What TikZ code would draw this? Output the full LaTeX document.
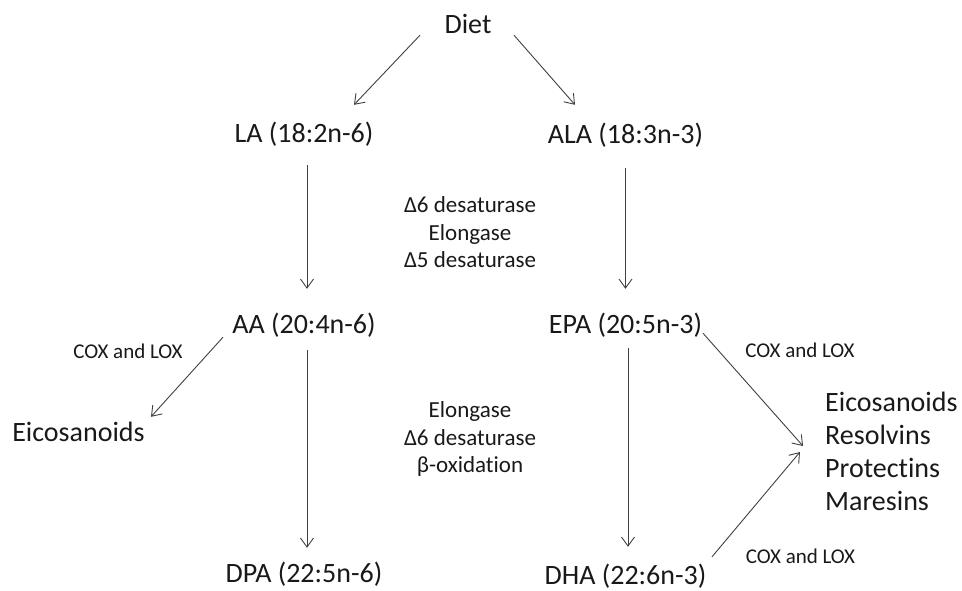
\documentclass[tikz,border=0pt]{standalone}
\usepackage{fontspec}
\setmainfont{Carlito}[Ligatures=NoCommon]
\usetikzlibrary{arrows.meta, positioning}

\begin{document}
\begin{tikzpicture}[
            node distance = 1cm and 1cm, on grid,
            every node/.style = {inner sep=0pt, text=black!90},
            acid/.style = {font=\fontsize{28}{33}\selectfont, text height=20pt, text depth=6pt},
            products/.style = {font=\fontsize{28}{33}\selectfont, align=left},
            enzyme/.style = {font=\fontsize{23}{27.5}\selectfont, align=center},
            coxlox/.style = {font=\fontsize{21}{25}\selectfont, text height=15pt, text depth=4pt},
            conv/.style = {-{Straight Barb[length=9pt,width=13pt]}, line width=0.9pt, black!75}
                                 ]
            \useasboundingbox (-468pt,26pt) rectangle (494pt,-564pt);
            \node[acid] (DIET) at (0,0) {Diet};
            \node[acid] (LA)   [below left  = 109pt and 164pt of DIET] {LA (18:2n-6)};
            \node[acid] (ALA)  [below right = 110pt and 157.5pt of DIET] {ALA (18:3n-3)};
            \node[acid] (AA)   [below = 191pt of LA] {AA (20:4n-6)};
            \node[acid] (EPA)  [below = 190pt of ALA] {EPA (20:5n-3)};
            \node[acid] (DPA)  [below = 249pt of AA] {DPA (22:5n-6)};
            \node[acid] (DHA)  [below = 251pt of EPA] {DHA (22:6n-3)};
            \node[acid] (EICO) [below left  = 108pt and 225.5pt of AA] {Eicosanoids};
            \node[products] (MED) [below right = 125pt and 199.5pt of EPA, anchor=west]
                {Eicosanoids\\Resolvins\\Protectins\\Maresins};
            %
            \node[enzyme] (ENZ1) [below right = 97.5pt and 166pt of LA]
                {Δ6 desaturase\\Elongase\\Δ5 desaturase};
            \node[enzyme] (ENZ2) [below right = 113pt and 166pt of AA]
                {Elongase\\Δ6 desaturase\\β-oxidation};
            \node[coxlox] (COX1) [below left  = 26.5pt and 176pt of AA] {COX and LOX};
            \node[coxlox] (COX2) [below right = 25.5pt and 174.5pt of EPA] {COX and LOX};
            \node[coxlox] (COX3) [above right = 19.5pt and 175pt of DHA] {COX and LOX};
            %
            \draw [conv] ([xshift=-48pt,yshift=4pt]DIET.south) -- ([xshift=50pt,yshift=17pt]LA.north);
            \draw [conv] ([xshift=46pt,yshift=4pt]DIET.south) -- ([xshift=-50.5pt,yshift=18pt]ALA.north);
            \draw [conv] ([xshift=3pt,yshift=-17pt]LA.south) -- ([xshift=3pt,yshift=24pt]AA.north);
            \draw [conv] ([yshift=-19pt]ALA.south) -- ([yshift=24pt]EPA.north);
            \draw [conv] ([xshift=3pt,yshift=-11pt]AA.south) -- ([xshift=3pt,yshift=14pt]DPA.north);
            \draw [conv] ([xshift=2.5pt,yshift=-9pt]EPA.south) -- ([xshift=2.5pt,yshift=17pt]DHA.north);
            \draw [conv] ([xshift=-81pt,yshift=2pt]AA.south) -- ([xshift=72.5pt,yshift=4pt]EICO.north);
            \draw [conv] ([xshift=77.5pt,yshift=6pt]EPA.south) -- ([xshift=-22pt,yshift=5pt]MED.west);
            \draw [conv] ([xshift=86.5pt,yshift=7pt]DHA.north) -- ([xshift=-25pt,yshift=-1pt]MED.west);
\end{tikzpicture}
\end{document}
